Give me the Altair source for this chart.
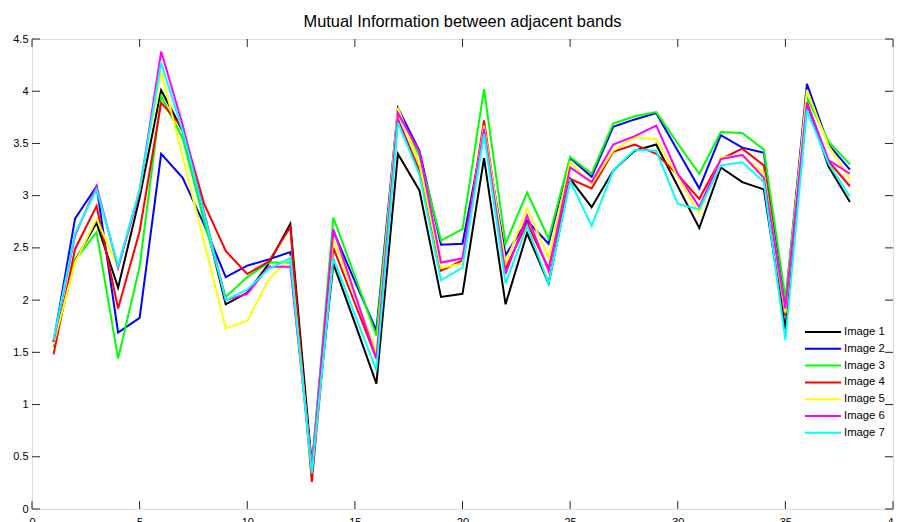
import altair as alt
import pandas as pd

# ---------------- data ----------------
bands = list(range(1, 39))
series_names = ["Image 1", "Image 2", "Image 3", "Image 4", "Image 5", "Image 6", "Image 7"]
series_colors = ["#000000", "#0000FF", "#00FF00", "#FF0000", "#FFFF00", "#FF00FF", "#00FFFF"]

image1 = [1.60, 2.38, 2.74, 2.12, 2.98, 4.01, 3.62, 2.80, 1.96, 2.07, 2.35, 2.73, 0.42,
          2.35, 1.78, 1.20, 3.40, 3.05, 2.03, 2.06, 3.36, 1.96, 2.64, 2.16, 3.16, 2.89,
          3.24, 3.43, 3.49, 3.09, 2.69, 3.27, 3.13, 3.06, 1.72, 3.89, 3.28, 2.94]
image2 = [1.60, 2.78, 3.09, 1.69, 1.83, 3.40, 3.17, 2.72, 2.22, 2.33, 2.39, 2.46, 0.40,
          2.66, 2.18, 1.71, 3.84, 3.43, 2.53, 2.54, 3.62, 2.43, 2.76, 2.54, 3.36, 3.18,
          3.66, 3.73, 3.79, 3.43, 3.07, 3.58, 3.46, 3.41, 1.95, 4.07, 3.49, 3.25]
image3 = [1.55, 2.38, 2.65, 1.44, 2.32, 3.95, 3.55, 2.75, 2.03, 2.22, 2.36, 2.36, 0.40,
          2.79, 2.23, 1.66, 3.80, 3.38, 2.57, 2.68, 4.02, 2.54, 3.03, 2.59, 3.37, 3.21,
          3.69, 3.76, 3.80, 3.50, 3.21, 3.61, 3.60, 3.44, 2.02, 3.94, 3.52, 3.30]
image4 = [1.48, 2.49, 2.90, 1.92, 2.66, 3.89, 3.65, 2.92, 2.47, 2.25, 2.37, 2.70, 0.26,
          2.50, 1.97, 1.44, 3.73, 3.24, 2.28, 2.38, 3.72, 2.30, 2.74, 2.30, 3.16, 3.07,
          3.42, 3.49, 3.40, 3.20, 2.97, 3.35, 3.45, 3.29, 1.85, 3.89, 3.33, 3.09]
image5 = [1.58, 2.36, 2.78, 2.31, 3.08, 4.19, 3.37, 2.55, 1.73, 1.80, 2.20, 2.41, 0.38,
          2.59, 2.05, 1.50, 3.84, 3.30, 2.31, 2.35, 3.67, 2.35, 2.88, 2.40, 3.32, 3.11,
          3.43, 3.56, 3.54, 3.18, 2.83, 3.37, 3.38, 3.22, 1.88, 4.01, 3.48, 3.16]
image6 = [1.60, 2.62, 3.09, 2.31, 3.04, 4.38, 3.68, 2.84, 2.00, 2.06, 2.32, 2.32, 0.38,
          2.68, 2.06, 1.44, 3.79, 3.42, 2.36, 2.40, 3.64, 2.25, 2.81, 2.28, 3.27, 3.13,
          3.49, 3.57, 3.67, 3.21, 2.89, 3.35, 3.39, 3.17, 1.92, 3.89, 3.34, 3.21]
image7 = [1.62, 2.64, 3.06, 2.33, 3.06, 4.27, 3.62, 2.82, 2.00, 2.10, 2.30, 2.40, 0.34,
          2.40, 1.86, 1.33, 3.70, 3.20, 2.19, 2.31, 3.59, 2.16, 2.71, 2.16, 3.14, 2.71,
          3.24, 3.44, 3.43, 2.92, 2.87, 3.29, 3.32, 3.13, 1.62, 3.82, 3.31, 2.99]

x_ticks = [0, 5, 10, 15, 20, 25, 30, 35, 40]
y_ticks = [0, 0.5, 1, 1.5, 2, 2.5, 3, 3.5, 4, 4.5]

title_text = "Mutual Information between adjacent bands"

# ---------------- tables ----------------
all_series = [image1, image2, image3, image4, image5, image6, image7]
rows = []
for name, vals in zip(series_names, all_series):
    for b, v in zip(bands, vals):
        rows.append({"band": b, "mi": v, "series": name})
df = pd.DataFrame(rows)
xt_df = pd.DataFrame({"band": x_ticks})
yt_df = pd.DataFrame({"mi": y_ticks})

W, H = 861, 470
FONT = "Liberation Sans"
TICK = 8

x_scale = alt.Scale(domain=[0, 40], nice=False, zero=False)
y_scale = alt.Scale(domain=[0, 4.5], nice=False, zero=False)
x_axis = alt.Axis(values=x_ticks, ticks=False, domain=False, grid=False,
                  labelPadding=7, labelFontSize=11, labelFont=FONT,
                  labelColor="#000000", labelFlush=False, labelExpr="'' + datum.value")
y_axis = alt.Axis(values=y_ticks, ticks=False, domain=False, grid=False,
                  labelPadding=4, labelFontSize=11, labelFont=FONT,
                  labelColor="#000000", labelFlush=False, labelExpr="'' + datum.value")

X = alt.X("band:Q", scale=x_scale, axis=x_axis, title=None)
Y = alt.Y("mi:Q", scale=y_scale, axis=y_axis, title=None)

lines = alt.Chart(df).mark_line(strokeWidth=2, clip=True).encode(
    x=X,
    y=Y,
    color=alt.Color(
        "series:N",
        scale=alt.Scale(domain=series_names, range=series_colors),
        sort=series_names,
        legend=alt.Legend(
            title=None, orient="none", legendX=773, legendY=287,
            direction="vertical", padding=0,
            symbolType="M-3.6,0H3.6", symbolSize=100, symbolStrokeWidth=2,
            symbolOffset=12, labelOffset=15, rowPadding=4.8,
            labelFontSize=11.3, labelFont=FONT, labelColor="#000000",
        ),
    ),
)

tick_color = "#262626"
ticks_bottom = alt.Chart(xt_df).mark_rule(color=tick_color, strokeWidth=1).encode(
    x=X, y=alt.value(H), y2=alt.value(H - TICK))
ticks_top = alt.Chart(xt_df).mark_rule(color=tick_color, strokeWidth=1).encode(
    x=X, y=alt.value(0), y2=alt.value(TICK))
ticks_left = alt.Chart(yt_df).mark_rule(color=tick_color, strokeWidth=1).encode(
    y=Y, x=alt.value(0), x2=alt.value(TICK))
ticks_right = alt.Chart(yt_df).mark_rule(color=tick_color, strokeWidth=1).encode(
    y=Y, x=alt.value(W), x2=alt.value(W - TICK))

chart = alt.layer(ticks_bottom, ticks_top, ticks_left, ticks_right, lines).properties(
    width=W,
    height=H,
    autosize=alt.AutoSizeParams(type="none"),
    padding={"left": 24, "top": 31, "right": 1, "bottom": 14},
    title=alt.TitleParams(title_text, fontSize=16.4, font=FONT, fontWeight="normal",
                          color="#000000", anchor="middle", baseline="alphabetic",
                          offset=10, dy=20),
).configure_view(
    stroke="#262626", strokeWidth=1
).configure(background="#FFFFFF")

chart.save("out.html", embed_options={"renderer": "svg", "actions": False})
